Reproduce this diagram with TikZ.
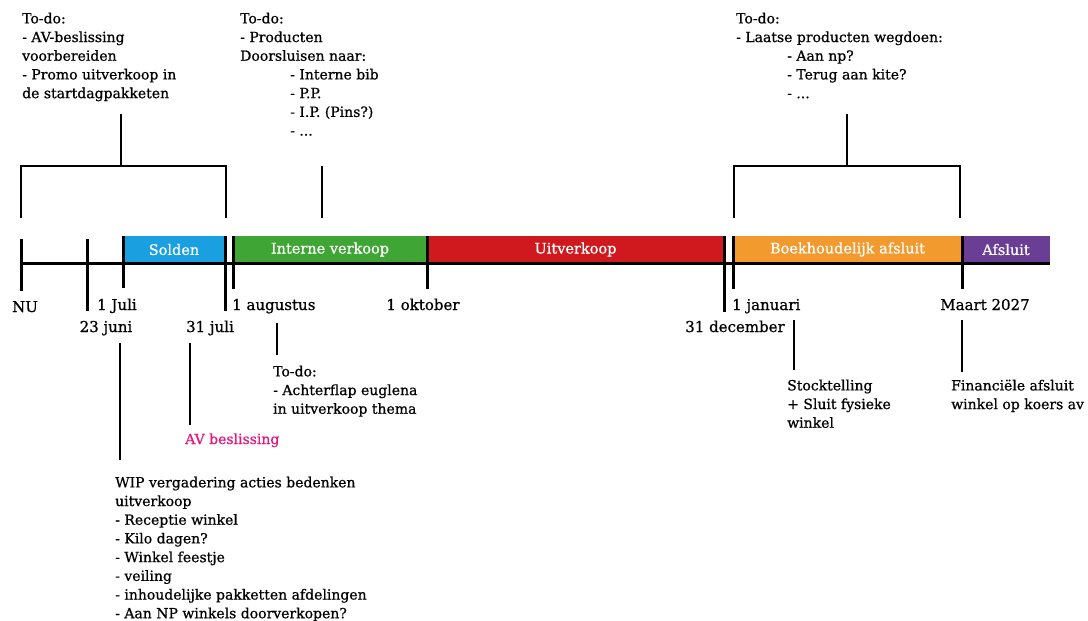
\documentclass[tikz,border=0pt]{standalone}
\usepackage{fontspec}
\setmainfont[FakeBold=0.7]{DejaVu Serif}
\definecolor{cSolden}{HTML}{1A9FE0}
\definecolor{cIntern}{HTML}{3FA535}
\definecolor{cUit}{HTML}{D0191E}
\definecolor{cBoek}{HTML}{F29A2E}
\definecolor{cAfs}{HTML}{6B3E96}
\definecolor{cPink}{HTML}{E6177F}
\begin{document}
\begin{tikzpicture}[x=1pt,y=-1pt,
  txt/.style={font=\fontsize{14}{18.7}\selectfont, align=left, inner sep=0pt, anchor=north west},
  datelbl/.style={font=\fontsize{15}{16}\selectfont, inner sep=0pt},
  bar/.style={draw=none, minimum height=27pt, inner sep=0pt, text=white, font=\fontsize{14.5}{16}\selectfont},
  tickline/.style={line width=3pt},
  thinline/.style={line width=1.3pt}]
\useasboundingbox (0,0) rectangle (1088,621);
\fill[white] (0,0) rectangle (1088,621);

% bars
\node[bar, fill=cSolden, minimum width=102pt] (solden) at (174,249.5) {Solden};
\node[bar, fill=cIntern, minimum width=194pt] (intern) at (330,249.5) {Interne verkoop};
\node[bar, fill=cUit, minimum width=297pt] (uit) at (575.5,249.5) {Uitverkoop};
\node[bar, fill=cBoek, minimum width=229pt] (boek) at (847.5,249.5) {Boekhoudelijk afsluit};
\node[bar, fill=cAfs, minimum width=88pt] (afs) at (1006,249.5) {Afsluit};

% axis
\coordinate (axL) at (21,263);
\coordinate (axR) at (1050,263);
\draw[tickline] (axL) -- (axR);

% ticks
\coordinate (tNUa) at (21,239);   \coordinate (tNUb) at (21,291);
\coordinate (tJuna) at (87,239);  \coordinate (tJunb) at (87,311);
\coordinate (tJula) at (123,236); \coordinate (tJulb) at (123,288);
\coordinate (tJ31a) at (225,236); \coordinate (tJ31b) at (225,311);
\coordinate (tAuga) at (233,236); \coordinate (tAugb) at (233,289);
\coordinate (tOkta) at (427,236); \coordinate (tOktb) at (427,289);
\coordinate (tDeca) at (724,236); \coordinate (tDecb) at (724,312);
\coordinate (tJana) at (733,236); \coordinate (tJanb) at (733,289);
\coordinate (tMaaa) at (962,236); \coordinate (tMaab) at (962,289);
\foreach \t in {NU,Jun,Jul,J31,Aug,Okt,Dec,Jan,Maa}{
  \draw[tickline] (t\t a) -- (t\t b);
}

% date labels
\node[datelbl, anchor=base] (lNU) at (25,312) {NU};
\node[datelbl, anchor=base west] (lJul) at (97,310) {1 Juli};
\node[datelbl, anchor=base] (lJun) at (106,332) {23 juni};
\node[datelbl, anchor=base] (lJ31) at (210,332) {31 juli};
\node[datelbl, anchor=base west] (lAug) at (232,310) {1 augustus};
\node[datelbl, anchor=base] (lOkt) at (423,310) {1 oktober};
\node[datelbl, anchor=base] (lDec) at (735,332) {31 december};
\node[datelbl, anchor=base west] (lJan) at (732,310) {1 januari};
\node[datelbl, anchor=base] (lMaa) at (985,310) {Maart 2027};

% top texts
\node[txt] (todo1) at (22,12.5) {To-do:\\- AV-beslissing\\voorbereiden\\- Promo uitverkoop in\\de startdagpakketen};
\node[txt] (todo2) at (240,12.5) {To-do:\\- Producten\\Doorsluisen naar:\\\hspace*{50pt}- Interne bib\\\hspace*{50pt}- P.P.\\\hspace*{50pt}- I.P. (Pins?)\\\hspace*{50pt}- ...};
\node[txt] (todo3) at (736,12.5) {To-do:\\- Laatse producten wegdoen:\\\hspace*{51pt}- Aan np?\\\hspace*{51pt}- Terug aan kite?\\\hspace*{51pt}- ...};

% top brackets
\coordinate (b1s) at (121,114); \coordinate (b1m) at (121,166);
\draw[thinline] (b1s) -- (b1m);
\draw[thinline] (21,218) -- (21,166) -- (226,166) -- (226,218);
\coordinate (b2s) at (322,166); \coordinate (b2e) at (322,218);
\draw[thinline] (b2s) -- (b2e);
\coordinate (b3s) at (847,114); \coordinate (b3m) at (847,166);
\draw[thinline] (b3s) -- (b3m);
\draw[thinline] (734,218) -- (734,166) -- (960,166) -- (960,218);

% bottom texts
\node[txt] (todoAug) at (273,365.5) {To-do:\\- Achterflap euglena\\in uitverkoop thema};
\node[txt, text=cPink, anchor=base west] (av) at (185,444) {AV beslissing};
\node[txt] (wip) at (115,476.5) {WIP vergadering acties bedenken\\uitverkoop\\- Receptie winkel\\- Kilo dagen?\\- Winkel feestje\\- veiling\\- inhoudelijke pakketten afdelingen\\- Aan NP winkels doorverkopen?};
\node[txt] (stock) at (787,379.5) {Stocktelling\\+ Sluit fysieke\\winkel};
\node[txt] (fin) at (951,379.5) {Financiële afsluit\\winkel op koers av};

% bottom connectors
\coordinate (cJun) at (120,343); \coordinate (cJunE) at (120,460);
\draw[thinline] (cJun) -- (cJunE);
\coordinate (cJ31) at (190,343); \coordinate (cJ31E) at (190,425);
\draw[thinline] (cJ31) -- (cJ31E);
\coordinate (cAug) at (277,323); \coordinate (cAugE) at (277,355);
\draw[thinline] (cAug) -- (cAugE);
\coordinate (cJan) at (794,320); \coordinate (cJanE) at (794,370);
\draw[thinline] (cJan) -- (cJanE);
\coordinate (cMaa) at (962,320); \coordinate (cMaaE) at (962,372);
\draw[thinline] (cMaa) -- (cMaaE);
\end{tikzpicture}
\end{document}
